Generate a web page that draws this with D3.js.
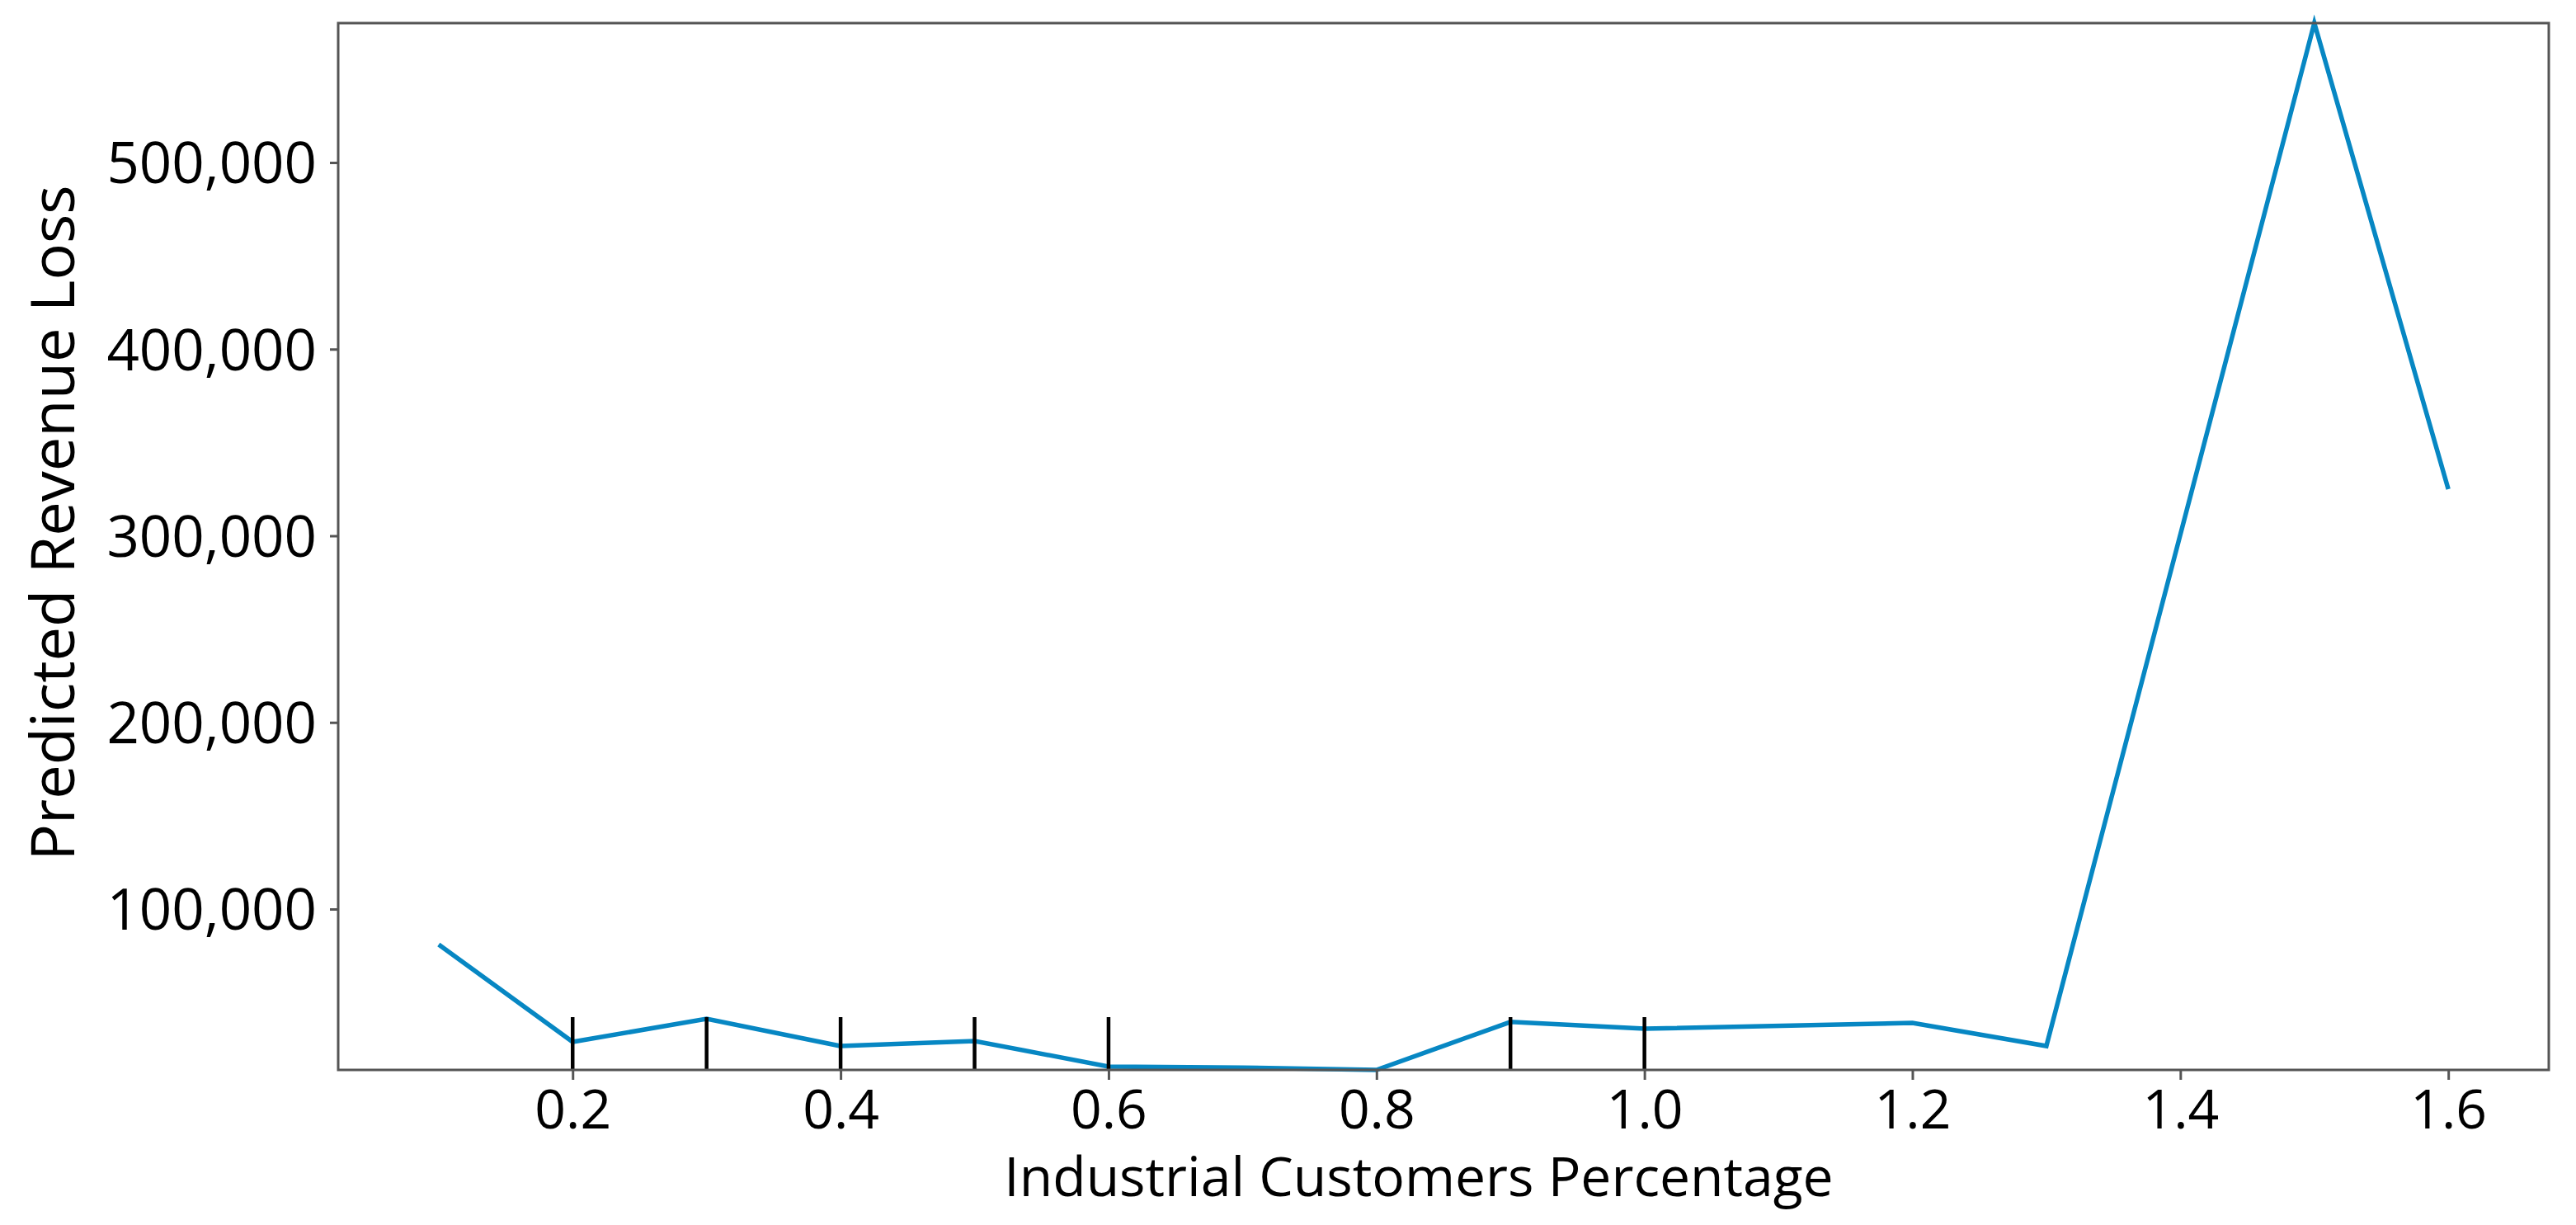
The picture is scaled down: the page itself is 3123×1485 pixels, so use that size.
<!DOCTYPE html>
<html>
<head>
<meta charset="utf-8">
<script src="https://cdn.jsdelivr.net/npm/d3@7"></script>
<style>
  html, body { margin: 0; padding: 0; background: #fff; }
  svg { display: block; }
  text { font-family: "Open Sans", "Noto Sans", sans-serif; fill: #000; }
</style>
</head>
<body>
<svg id="chart" width="3123" height="1485"></svg>
<script>
// ---- data ----
const xValues = [0.1, 0.2, 0.3, 0.4, 0.5, 0.6, 0.7, 0.8, 0.9, 1.0, 1.2, 1.3, 1.5, 1.6];
const lossValues = [81000, 28800, 41200, 26600, 29300, 15600, 15000, 13800, 39500, 35900, 39000, 26600, 574700, 325000];
const rugValues = [0.2, 0.3, 0.4, 0.5, 0.6, 0.9, 1.0];
const xTicks = [0.2, 0.4, 0.6, 0.8, 1.0, 1.2, 1.4, 1.6];
const yTicks = [100000, 200000, 300000, 400000, 500000];
const xLabel = "Industrial Customers Percentage";
const yLabel = "Predicted Revenue Loss";

// ---- layout ----
const m = { left: 410, right: 3090, top: 28, bottom: 1297 };

const svg = d3.select("#chart");

const x = d3.scaleLinear().domain([0.025, 1.675]).range([m.left, m.right]);
const y = d3.scaleLinear().domain([d3.min(lossValues), d3.max(lossValues)]).range([m.bottom, m.top]);

// line
const line = d3.line().x((d, i) => x(xValues[i])).y(d => y(d));
svg.append("path")
  .datum(lossValues)
  .attr("d", line)
  .attr("fill", "none")
  .attr("stroke", "#0787c3")
  .attr("stroke-width", 5.5)
  .attr("stroke-linejoin", "miter");

// rug marks
svg.append("g").selectAll("line")
  .data(rugValues)
  .join("line")
  .attr("x1", d => x(d)).attr("x2", d => x(d))
  .attr("y1", m.bottom).attr("y2", m.bottom - 64)
  .attr("stroke", "#000")
  .attr("stroke-width", 4.5);

// axes
const xAxis = svg.append("g")
  .attr("transform", `translate(0,${m.bottom})`)
  .call(d3.axisBottom(x).tickValues(xTicks).tickFormat(d3.format(".1f")).tickSize(12).tickPadding(12));
const yAxis = svg.append("g")
  .attr("transform", `translate(${m.left},0)`)
  .call(d3.axisLeft(y).tickValues(yTicks).tickFormat(d3.format(",")).tickSize(10).tickPadding(16));

[xAxis, yAxis].forEach(g => {
  g.select(".domain").remove();
  g.selectAll(".tick line").attr("stroke", "#555").attr("stroke-width", 3);
  g.selectAll(".tick text").attr("fill", "#000")
    .style("font-family", "'Open Sans', 'Noto Sans', sans-serif");
});
xAxis.selectAll(".tick text").attr("font-size", 66);
yAxis.selectAll(".tick text").attr("font-size", 69).attr("dy", "0.36em");

// frame
svg.append("rect")
  .attr("x", m.left).attr("y", m.top)
  .attr("width", m.right - m.left).attr("height", m.bottom - m.top)
  .attr("fill", "none").attr("stroke", "#555").attr("stroke-width", 3);

// axis titles
svg.append("text")
  .attr("x", 1720)
  .attr("y", 1450)
  .attr("text-anchor", "middle")
  .attr("font-size", 66)
  .text(xLabel);

svg.append("text")
  .attr("transform", `translate(64,634) rotate(-90)`)
  .attr("text-anchor", "middle")
  .attr("dy", "0.35em")
  .attr("font-size", 74)
  .text(yLabel);
</script>
</body>
</html>
